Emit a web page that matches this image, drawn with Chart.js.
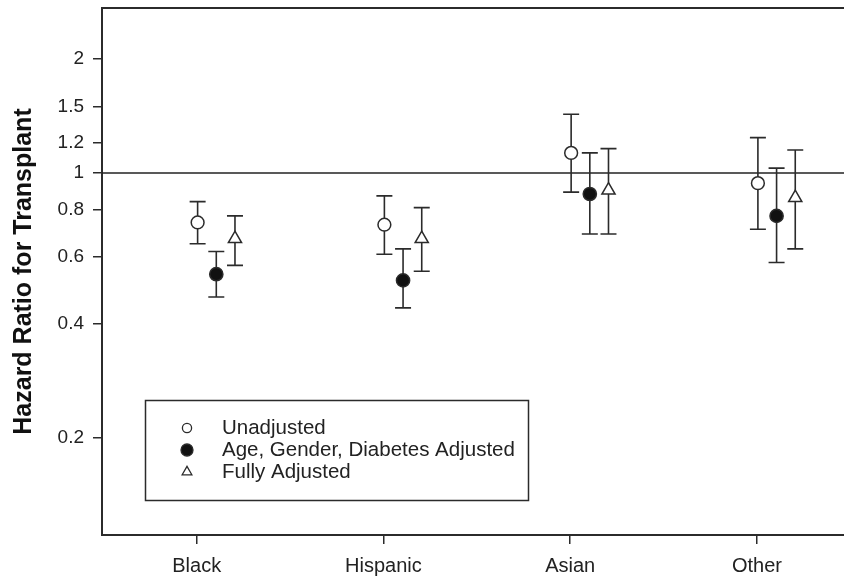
<!DOCTYPE html>
<html>
<head>
<meta charset="utf-8">
<title>Hazard Ratio for Transplant by Race</title>
<script src="https://cdn.jsdelivr.net/npm/chart.js@4/dist/chart.umd.min.js"></script>
<style>
  html, body { margin: 0; padding: 0; background: #ffffff; }
  #wrap { width: 844px; height: 577px; position: relative; }
</style>
</head>
<body>
<div id="wrap"><canvas id="hrChart" width="844" height="577"></canvas></div>
<script>
// Race groups on the x axis
const categories = ['Black', 'Hispanic', 'Asian', 'Other'];

// Hazard ratios with 95% confidence limits, per model
const seriesNames = ['Unadjusted', 'Age, Gender, Diabetes Adjusted', 'Fully Adjusted'];

const unadjustedHR    = [0.74, 0.73, 1.13, 0.94];
const unadjustedLower = [0.65, 0.61, 0.89, 0.71];
const unadjustedUpper = [0.84, 0.87, 1.43, 1.24];

const ageGenderDiabetesHR    = [0.54, 0.52, 0.88, 0.77];
const ageGenderDiabetesLower = [0.47, 0.44, 0.69, 0.58];
const ageGenderDiabetesUpper = [0.62, 0.63, 1.13, 1.03];

const fullyAdjustedHR    = [0.67, 0.67, 0.90, 0.86];
const fullyAdjustedLower = [0.57, 0.55, 0.69, 0.63];
const fullyAdjustedUpper = [0.77, 0.81, 1.16, 1.15];

// Log-scale tick labels on the y axis
const yTickValues = [0.2, 0.4, 0.6, 0.8, 1, 1.2, 1.5, 2];

// Reference line for "no difference"
const referenceHR = 1;

// ---- presentation ----
const FONT = '"Liberation Sans", Arial, Helvetica, sans-serif';
const INK = '#2b2b2b';
const seriesOffset = [0.005, 0.105, 0.205];   // horizontal dodge within a group

const seriesSpecs = [
  { name: seriesNames[0], hr: unadjustedHR, lo: unadjustedLower, hi: unadjustedUpper,
    style: 'circle', fill: '#ffffff', radius: 6.4 },
  { name: seriesNames[1], hr: ageGenderDiabetesHR, lo: ageGenderDiabetesLower, hi: ageGenderDiabetesUpper,
    style: 'circle', fill: '#111111', radius: 6.6 },
  { name: seriesNames[2], hr: fullyAdjustedHR, lo: fullyAdjustedLower, hi: fullyAdjustedUpper,
    style: 'triangle', fill: '#ffffff', radius: 7.6 }
];

const datasets = seriesSpecs.map((s, k) => ({
  label: s.name,
  data: categories.map((c, i) => ({ x: i + seriesOffset[k], y: s.hr[i] })),
  lower: s.lo,
  upper: s.hi,
  pointStyle: s.style,
  pointRadius: s.radius,
  pointHoverRadius: s.radius,
  pointBorderWidth: 1.5,
  pointHoverBorderWidth: 1.5,
  pointBackgroundColor: s.fill,
  pointHoverBackgroundColor: s.fill,
  pointBorderColor: INK,
  pointHoverBorderColor: INK,
  showLine: false
}));

// Error bars, reference line and top frame edge
const errorBarPlugin = {
  id: 'errorBars',
  beforeDatasetsDraw(chart) {
    const { ctx, chartArea, scales } = chart;
    const y = scales.y;
    ctx.save();
    // top edge of the plot frame
    ctx.strokeStyle = INK;
    ctx.lineWidth = 2;
    ctx.beginPath();
    ctx.moveTo(chartArea.left - 1, chartArea.top);
    ctx.lineTo(chartArea.right, chartArea.top);
    ctx.stroke();
    // HR = 1 reference line
    const yRef = y.getPixelForValue(referenceHR);
    ctx.lineWidth = 1.5;
    ctx.strokeStyle = '#222222';
    ctx.beginPath();
    ctx.moveTo(chartArea.left, yRef);
    ctx.lineTo(chartArea.right, yRef);
    ctx.stroke();
    // confidence intervals
    ctx.strokeStyle = INK;
    ctx.lineWidth = 1.6;
    const cap = 8;
    chart.data.datasets.forEach((ds, di) => {
      const meta = chart.getDatasetMeta(di);
      meta.data.forEach((pt, j) => {
        const yLo = y.getPixelForValue(ds.lower[j]);
        const yHi = y.getPixelForValue(ds.upper[j]);
        ctx.beginPath();
        ctx.moveTo(pt.x, yHi); ctx.lineTo(pt.x, yLo);
        ctx.moveTo(pt.x - cap, yHi); ctx.lineTo(pt.x + cap, yHi);
        ctx.moveTo(pt.x - cap, yLo); ctx.lineTo(pt.x + cap, yLo);
        ctx.stroke();
      });
    });
    ctx.restore();
  }
};

// Boxed legend inside the plot area
const boxLegendPlugin = {
  id: 'boxLegend',
  afterDraw(chart) {
    const { ctx, chartArea } = chart;
    const bx = chartArea.left + 43.5, by = 400.5, bw = 383, bh = 100;
    ctx.save();
    ctx.fillStyle = '#ffffff';
    ctx.fillRect(bx, by, bw, bh);
    ctx.strokeStyle = INK;
    ctx.lineWidth = 1.5;
    ctx.strokeRect(bx, by, bw, bh);
    const markerX = bx + 41.5, textX = bx + 76.5;
    const rowY = [by + 27.5, by + 49.5, by + 71.5];
    ctx.font = '20.5px ' + FONT;
    ctx.textBaseline = 'middle';
    ctx.textAlign = 'left';
    seriesSpecs.forEach((s, k) => {
      const cy = rowY[k];
      ctx.lineWidth = 1.3;
      ctx.strokeStyle = INK;
      ctx.fillStyle = s.fill;
      ctx.beginPath();
      if (s.style === 'circle') {
        const r = s.fill === '#ffffff' ? 4.6 : 6;
        ctx.arc(markerX, cy, r, 0, Math.PI * 2);
      } else {
        const r = 5.6;
        ctx.moveTo(markerX, cy - r);
        ctx.lineTo(markerX + r * 0.866, cy + r * 0.5);
        ctx.lineTo(markerX - r * 0.866, cy + r * 0.5);
        ctx.closePath();
      }
      ctx.fill();
      ctx.stroke();
      ctx.fillStyle = '#222222';
      ctx.fillText(s.name, textX, cy);
    });
    ctx.restore();
  }
};

new Chart(document.getElementById('hrChart'), {
  type: 'scatter',
  data: { datasets },
  plugins: [errorBarPlugin, boxLegendPlugin],
  options: {
    responsive: false,
    animation: false,
    events: [],
    layout: { autoPadding: false, padding: { top: 8, left: 9, right: 0, bottom: 0 } },
    plugins: { legend: { display: false }, tooltip: { enabled: false } },
    scales: {
      x: {
        type: 'linear',
        min: -0.507,
        max: 3.466,
        afterBuildTicks(scale) {
          scale.ticks = categories.map((c, i) => ({ value: i }));
        },
        afterFit(scale) {
          scale.height = 42;
          scale.paddingLeft = 0;
          scale.paddingRight = 0;
        },
        ticks: {
          callback: (v) => categories[Math.round(v)],
          font: { family: FONT, size: 20 },
          color: '#222222',
          padding: 10,
          maxRotation: 0
        },
        grid: { drawOnChartArea: false, drawTicks: true, tickLength: 9, color: INK, lineWidth: 1.5 },
        border: { display: true, color: INK, width: 2 }
      },
      y: {
        type: 'logarithmic',
        min: 0.1104,
        max: 2.73,
        afterBuildTicks(scale) {
          scale.ticks = yTickValues.map(v => ({ value: v }));
        },
        afterFit(scale) {
          scale.width = 93;
          scale.paddingTop = 0;
          scale.paddingBottom = 0;
        },
        ticks: {
          callback: (v) => String(v),
          font: { family: FONT, size: 19 },
          color: '#222222',
          padding: 9
        },
        grid: { drawOnChartArea: false, drawTicks: true, tickLength: 9, color: INK, lineWidth: 1.5 },
        border: { display: true, color: INK, width: 2 },
        title: {
          display: true,
          text: 'Hazard Ratio for Transplant',
          font: { family: FONT, size: 25, weight: 'bold' },
          color: '#111111',
          padding: 0
        }
      }
    }
  }
});
</script>
</body>
</html>
